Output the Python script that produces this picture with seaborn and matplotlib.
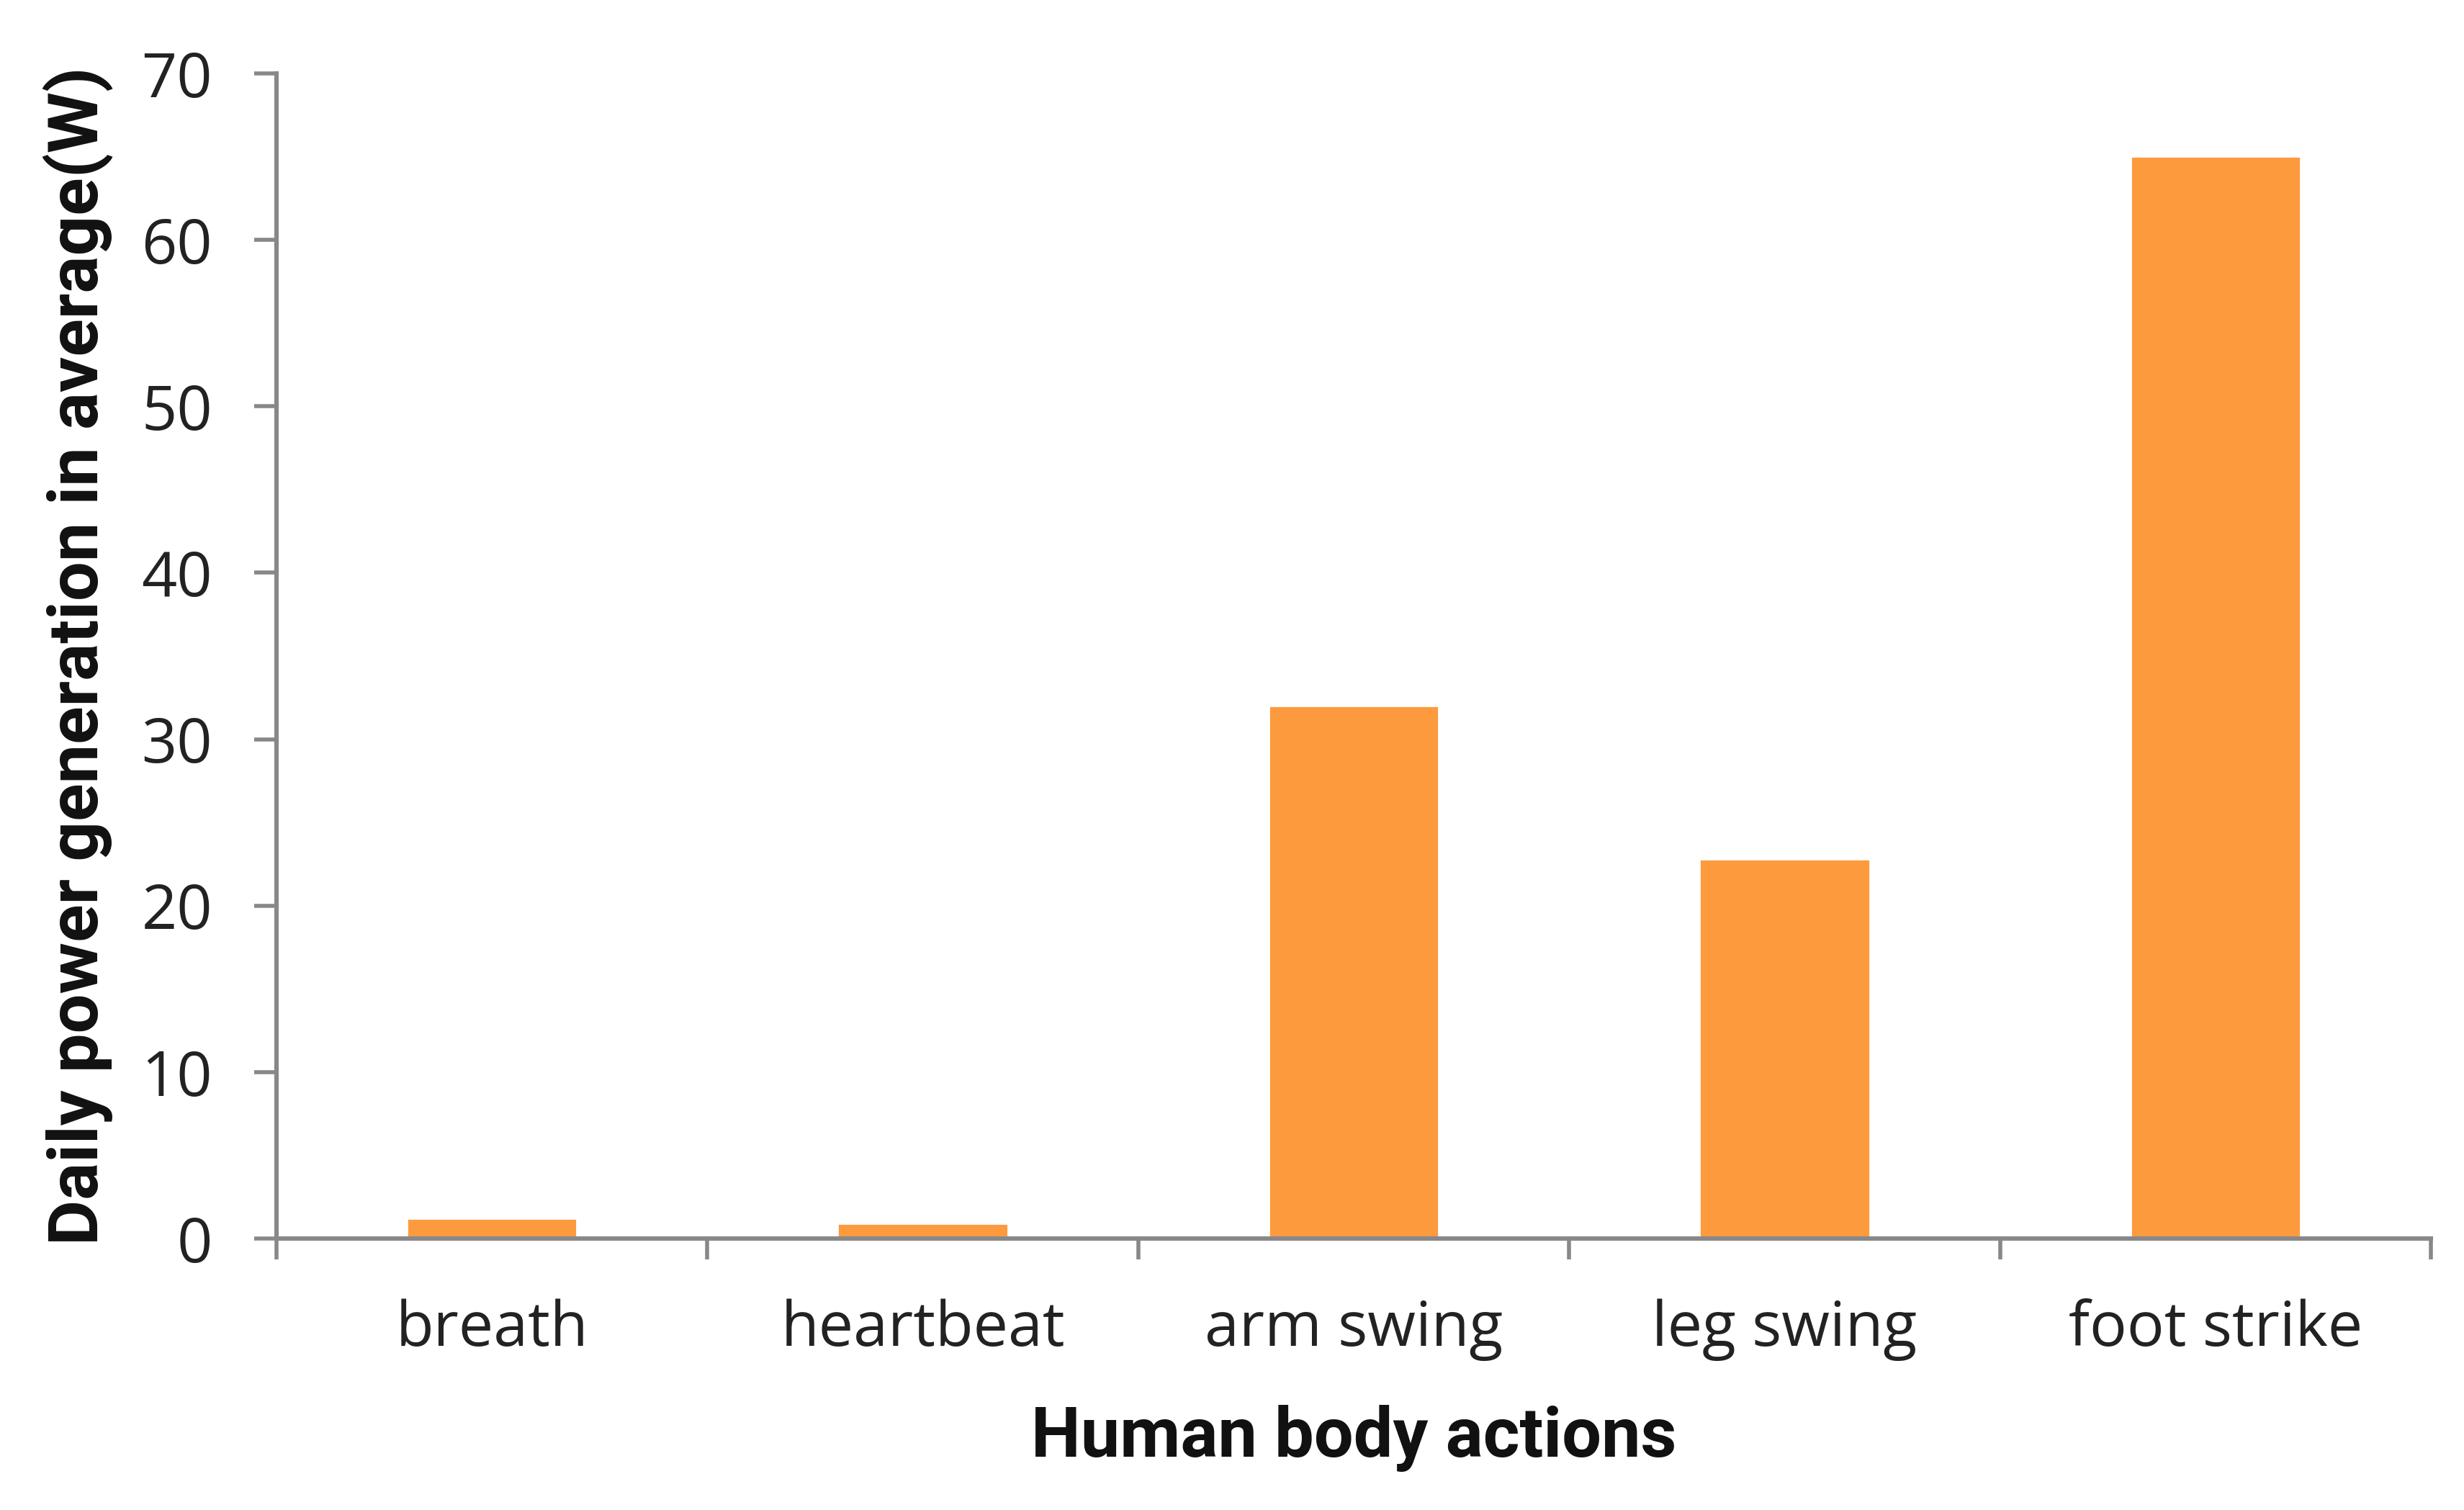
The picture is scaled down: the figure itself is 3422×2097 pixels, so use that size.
import matplotlib
matplotlib.use("Agg")
import matplotlib.pyplot as plt
from matplotlib import font_manager
import seaborn as sns
import pandas as pd
import numpy as np

categories = ["breath", "heartbeat", "arm swing", "leg swing", "foot strike"]
values = [1.2, 0.9, 32.0, 22.8, 65.0]
y_ticks = [0, 10, 20, 30, 40, 50, 60, 70]
x_label = "Human body actions"
y_label = "Daily power generation in average(W)"

sns.set_theme(style="white")
names = {f.name for f in font_manager.fontManager.ttflist}
label_font = "Liberation Sans Narrow" if "Liberation Sans Narrow" in names else "Roboto"
tick_font = "Open Sans"
plt.rcParams['font.family'] = [tick_font, 'DejaVu Sans']

df = pd.DataFrame({"action": categories, "power": values})

fig = plt.figure(figsize=(17.11, 10.485), dpi=200)
ax = fig.add_axes([0.1122, 0.1798, 0.8744, 0.7716])
sns.barplot(data=df, x="action", y="power", color="#FD9A3E", width=0.395,
            saturation=1, ax=ax, zorder=2)

axis_col = "#888888"
ax.set_ylim(0, 70)
ax.set_xlim(-0.5, len(categories) - 0.5)
ax.set_yticks(y_ticks)
ax.set_yticklabels([str(t) for t in y_ticks], fontsize=31, color="#222222")
ax.set_xticks(np.arange(-0.5, len(categories), 1.0))
ax.set_xticklabels([])
ax.set_xticks(np.arange(len(categories)), minor=True)
ax.set_xticklabels(categories, minor=True, fontsize=31, color="#222222")
ax.tick_params(axis="x", which="major", direction="out", length=10.5, width=2.0,
               color=axis_col, bottom=True)
ax.tick_params(axis="x", which="minor", length=0, pad=30)
ax.tick_params(axis="y", direction="out", length=11, width=2.0, color=axis_col,
               left=True, pad=21)
for s in ["top", "right"]:
    ax.spines[s].set_visible(False)
for s in ["left", "bottom"]:
    ax.spines[s].set_color(axis_col)
    ax.spines[s].set_linewidth(2.2)
ax.spines["bottom"].set_zorder(3)

ax.set_xlabel(x_label, fontsize=35, fontweight="bold", family=[label_font, "DejaVu Sans"],
              labelpad=22, color="#111111")
ax.set_ylabel(y_label, fontsize=35, fontweight="bold", family=[label_font, "DejaVu Sans"],
              labelpad=14, color="#111111")
ax.grid(False)

fig.savefig("out.png", dpi=200, facecolor="white")
